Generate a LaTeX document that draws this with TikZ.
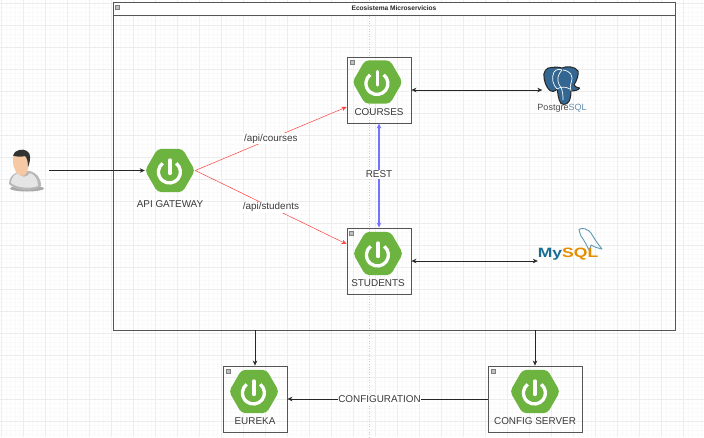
\documentclass[tikz,border=0pt]{standalone}
\usepackage{fontspec}
\usepackage{graphicx}
\setmainfont{Liberation Sans}
\usetikzlibrary{shapes.geometric,arrows.meta}
\definecolor{springgreen}{HTML}{6DB33F}
\definecolor{txt}{HTML}{3A3A3A}
\definecolor{edgeg}{HTML}{555555}
\definecolor{pgblue}{HTML}{336791}
\definecolor{mysqlblue}{HTML}{1B6E93}
\definecolor{mysqlorange}{HTML}{E48E00}
\definecolor{skin}{HTML}{F6C9A4}
\tikzset{
  x=1pt,y=-1pt,
  every node/.style={font=\fontsize{9.9}{11}\selectfont,text=txt,inner sep=0pt},
  hexicon/.style={regular polygon,regular polygon sides=6,minimum size=50pt,fill=springgreen,rounded corners=4pt},
  svcbox/.style={draw=edgeg,line width=0.9pt,minimum width=#1,minimum height=66pt,rectangle},
  collapse/.style={draw=gray,fill=black!25,line width=0.4pt,minimum size=4pt},
  conn/.style={-{Stealth[length=5pt,width=4.5pt]},line width=0.6pt,draw=black!85},
  biconn/.style={{Stealth[length=5pt,width=4.5pt]}-{Stealth[length=5pt,width=4.5pt]},line width=0.6pt,draw=black!85},
  redconn/.style={-{Stealth[length=5pt,width=4.5pt]},line width=0.5pt,draw=red!75!white},
  blueconn/.style={{Stealth[length=5pt,width=4.5pt]}-{Stealth[length=5pt,width=4.5pt]},line width=1.1pt,draw=blue!55!white},
  edgelabel/.style={fill=white,inner xsep=0pt,inner ysep=1pt},
}
\begin{document}
\begin{tikzpicture}[x=1pt,y=-1pt]
\useasboundingbox (0,0) rectangle (704,437);
\fill[white] (0,0) rectangle (704,437);
% grid
\foreach \gx in {1.5,5.9,...,704} \draw[black!2,line width=0.4pt] (\gx,0) -- (\gx,437);
\foreach \gy in {3,7.4,...,437} \draw[black!2,line width=0.4pt] (0,\gy) -- (704,\gy);
\foreach \gx in {1.5,23.5,...,704} \draw[black!7,line width=0.6pt] (\gx,0) -- (\gx,437);
\foreach \gy in {3,25,...,437} \draw[black!7,line width=0.6pt] (0,\gy) -- (704,\gy);
\draw[black!20,dotted,line width=0.6pt] (369.5,0) -- (369.5,437);
% container
\node[draw=edgeg,line width=0.9pt,minimum width=562pt,minimum height=328pt,rectangle] (eco) at (394,166) {};
\draw[edgeg,line width=0.9pt,fill=white] (113,2.5) rectangle (675.5,15);
\node[font=\bfseries\fontsize{6.6}{8}\selectfont,text=black!85] (ecot) at (394,8.5) {Ecosistema Microservicios};
\node[collapse] (ecoc) at (117.5,7.5) {};
% boxes
\node[svcbox=64pt] (courses) at (379,90) {};
\node[svcbox=64pt] (students) at (379,261) {};
\node[svcbox=64pt] (eureka) at (255,399) {};
\node[svcbox=94pt] (config) at (535,399) {};
\node[collapse] (cc) at (352,62) {};
\node[collapse] (sc) at (351,233) {};
\node[collapse] (ec) at (228.5,371) {};
\node[collapse] (fc) at (493,371) {};
% hexagons
\node[hexicon] (hexc) at (377.5,82) {};
\node[hexicon] (hexs) at (378,253.5) {};
\node[hexicon] (gw) at (170,170.5) {};
\node[hexicon] (hexe) at (254,391.5) {};
\node[hexicon] (hexf) at (535,391.5) {};
\foreach \px/\py in {377.5/82,378/253.5,170/170.5,254/391.5,535/391.5}{
  \draw[white,line width=3.3pt] (\px+6.2,\py-7.2) arc[start angle=52,end angle=-232,radius=11pt];
  \draw[white,line width=3.3pt,line cap=round] (\px,\py-10.5) -- (\px,\py+3);
}
% labels
\node (lc) at (379,112) {COURSES};
\node (ls) at (378,283) {STUDENTS};
\node (lg) at (170,204) {API GATEWAY};
\node (le) at (255,421) {EUREKA};
\node (lf) at (535,421) {CONFIG SERVER};
% user
\node[minimum width=36pt,minimum height=44pt] (user) at (26,170.5) {};
\fill[black!55,opacity=.6] (27,188.5) ellipse[x radius=17pt,y radius=3pt];
\fill[black!28] (9,184) .. controls (9,177) and (13,174) .. (19,171.5) -- (30,171) .. controls (37,173) and (41,178) .. (41,186) .. controls (33,192) and (16,191) .. (9,184) -- cycle;
\fill[black!10] (11,183) .. controls (11,178) and (14,175) .. (18,173) .. controls (21,178) and (27,178) .. (30,173) .. controls (35,175) and (38,179) .. (38,186) .. controls (31,189) and (17,188) .. (11,183) -- cycle;
\fill[skin] (13,156) -- (28,156) .. controls (29,163) and (28,170) .. (27,172) .. controls (25,177) and (20,177) .. (17,173) .. controls (14,170) and (12,162) .. (13,156) -- cycle;
\fill[black!80] (13,155.5) .. controls (14,150) and (23,148) .. (27,151) .. controls (31,153) and (31,160) .. (28,167) .. controls (28,161) and (27,158) .. (25,156) .. controls (21,157) and (17,157) .. (13,155.5) -- cycle;
% connectors
\draw[conn] (49,170.5) -- (gw.west);
\draw[redconn] (gw.east) -- (courses.west |- 0,107) node[pos=.5,fill=white,inner sep=1pt] (e1) {/api/courses};
\draw[redconn] (gw.east) -- (students.west |- 0,244) node[pos=.5,fill=white,inner sep=1pt] (e2) {/api/students};
\draw[blueconn] (courses.south) -- (students.north) node[pos=.49,edgelabel] (e3) {REST};
% postgres
\node[minimum width=38pt,minimum height=38pt] (pg) at (561.5,86) {};
\path[fill=pgblue,draw=black!85,line width=1pt,line join=round]
 (552,67.5) .. controls (546,67) and (543,72) .. (544,78) .. controls (545,85) and (549,92) .. (553,91.5)
 .. controls (555,91) and (556,90) .. (557,89) .. controls (558,92) and (558,100) .. (561,103.5)
 .. controls (565,106) and (569,103) .. (570,99) .. controls (571,96) and (571,93) .. (571,91)
 .. controls (575,91) and (579,90) .. (579.5,88) .. controls (577,87.5) and (575,87) .. (574,85)
 .. controls (577,80) and (579,74) .. (578,71) .. controls (575,66) and (566,66) .. (562,68)
 .. controls (559,67) and (555,67) .. (552,67.5) -- cycle;
\draw[white,line width=0.7pt] (557,89) .. controls (553,85) and (551,78) .. (554,72) .. controls (556,69) and (560,69) .. (562,70);
\draw[white,line width=0.7pt] (562,70) .. controls (558,74) and (556,80) .. (560,86) .. controls (563,90) and (563,96) .. (563,100);
\draw[white,line width=0.7pt] (563,70) .. controls (570,71) and (574,75) .. (571,83) .. controls (570,85) and (570,88) .. (571,91);
\draw[white,line width=0.7pt] (557,89) .. controls (560,87) and (565,86) .. (570,89);
\node[font=\fontsize{9}{11}\selectfont] (pgt) at (562,108.5) {\textcolor{black!70}{Postgre}\textcolor{pgblue!75!white}{SQL}};
\draw[biconn] (courses.east) -- (pg.west |- courses.east);
% mysql
\node[minimum width=62pt,minimum height=30pt] (my) at (569,242) {};
\draw[mysqlblue!70!white,line width=0.9pt,line join=round]
 (579,229.5) .. controls (582,227) and (588,229) .. (591,233) .. controls (594,238) and (597,243) .. (602,249)
 .. controls (598,248) and (594,247) .. (591,245) .. controls (591,247) and (590,249) .. (589,250)
 .. controls (587,246) and (584,240) .. (581,236) .. controls (580,233) and (579,231) .. (579,229.5) -- cycle;
\node[font=\bfseries\fontsize{13.5}{15}\selectfont] (myt) at (568,254.5) {\scalebox{1.3}[1]{\textcolor{mysqlblue}{My}\textcolor{mysqlorange}{SQL}}};
\draw[biconn] (students.east) -- (my.west |- students.east);
% lower connectors
\draw[conn] (eco.south -| eureka.north) -- (eureka.north);
\draw[conn] (eco.south -| config.north) -- (config.north);
\draw[conn] (config.west) -- (eureka.east) node[pos=.54,edgelabel] (e4) {CONFIGURATION};
\end{tikzpicture}
\end{document}
